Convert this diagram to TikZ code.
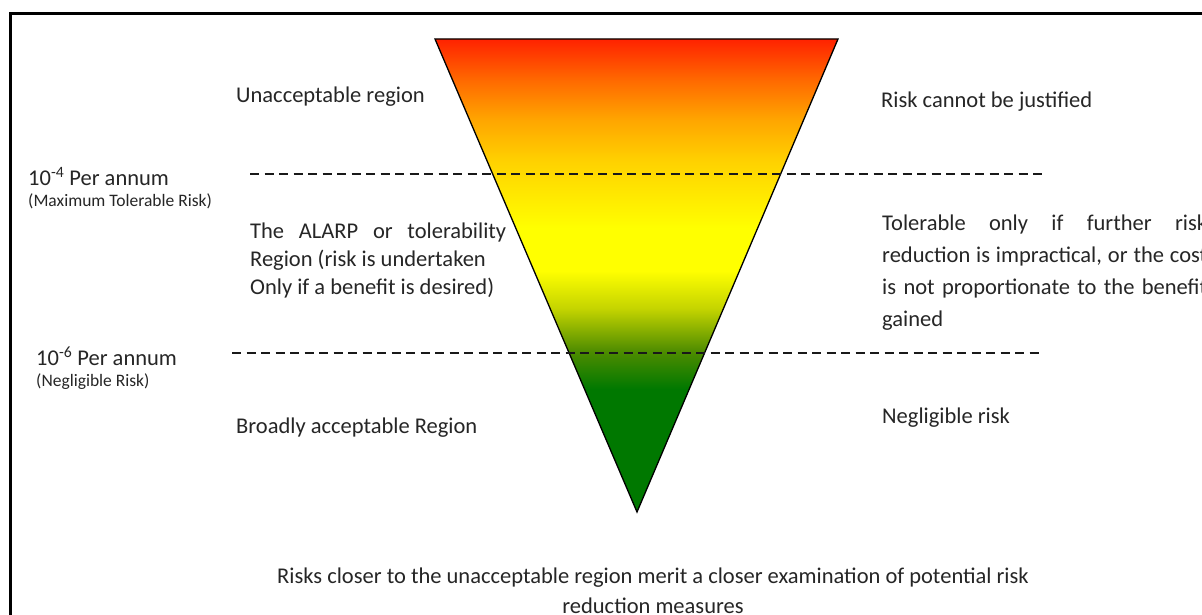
\documentclass[tikz,border=0pt]{standalone}
\usepackage{fontspec}
\setmainfont{Carlito}
\definecolor{rred}{HTML}{FF2200}
\definecolor{rorangeA}{HTML}{FF6A00}
\definecolor{rorange}{HTML}{FFA500}
\definecolor{rgold}{HTML}{FFD200}
\definecolor{ryellow}{HTML}{FFFF00}
\definecolor{ryg}{HTML}{C4D400}
\definecolor{rolive}{HTML}{4E8C00}
\definecolor{rgreen}{HTML}{007800}
\definecolor{txt}{HTML}{262626}
\pgfdeclareverticalshading{risk}{100bp}{color(0bp)=(rgreen); color(25bp)=(rgreen); color(38bp)=(rgreen); color(42bp)=(rolive); color(46.5bp)=(ryg); color(50.5bp)=(ryellow); color(55bp)=(ryellow); color(62bp)=(rgold); color(66.5bp)=(rorange); color(70.6bp)=(rorangeA); color(75bp)=(rred); color(100bp)=(rred)}
\begin{document}
\begin{tikzpicture}[x=1pt,y=-1pt,
  lbl/.style={inner sep=0pt, anchor=west, text=txt, font=\fontsize{22.5}{26}\selectfont, text height=18pt, text depth=2pt},
  small/.style={inner sep=0pt, anchor=west, text=txt, font=\fontsize{17.5}{20}\selectfont, text height=13pt, text depth=0pt},
  level/.style={dashed, dash pattern=on 9pt off 5.5pt, line width=1.8pt, black!90},
  frame/.style={line width=3pt, black}]
\useasboundingbox (0,0) rectangle (1202,615);
\clip (0,0) rectangle (1202,615);
\fill[white] (0,0) rectangle (1202,615);
% frame
\draw[frame] (10.5,13.5) rectangle (1230,640);
% triangle
\coordinate (tl) at (435,39);
\coordinate (tr) at (838,39);
\coordinate (ap) at (637,512);
\shadedraw[shading=risk, draw=black, line width=1.3pt, line join=miter] (tl) -- (tr) -- (ap) -- cycle;
% level lines
\coordinate (l1a) at (250,174);
\coordinate (l1b) at (1043,174);
\coordinate (l2a) at (232,353);
\coordinate (l2b) at (1043,353);
\draw[level] (l1a) -- (l1b);
\draw[level] (l2a) -- (l2b);
% left texts
\node[lbl] (unacc) at (236,95) {Unacceptable region};
\node[lbl] (p4) at (28,177) {10\textsuperscript{-4} Per annum};
\node[small] (mtr) at (28,200) {(Maximum Tolerable Risk)};
\node[lbl] (al1) at (250,230) {\makebox[256pt][s]{The ALARP or tolerability}};
\node[lbl] (al2) at (250,258) {Region (risk is undertaken};
\node[lbl] (al3) at (250,286) {Only if a benefit is desired)};
\node[lbl] (p6) at (36,357) {10\textsuperscript{-6} Per annum};
\node[small] (nr) at (36,380) {(Negligible Risk)};
\node[lbl] (broad) at (236,425) {Broadly acceptable Region};
% right texts
\node[lbl] (rcj) at (881,100) {Risk cannot be justified};
\node[lbl] (t1) at (882,222) {\makebox[325pt][s]{Tolerable only if further risk}};
\node[lbl] (t2) at (882,254) {\makebox[325pt][s]{reduction is impractical, or the cost}};
\node[lbl] (t3) at (882,286) {\makebox[325pt][s]{is not proportionate to the benefit}};
\node[lbl] (t4) at (882,318) {gained};
\node[lbl] (negl) at (882,415) {Negligible risk};
% bottom
\node[lbl, anchor=center] (b1) at (653,575) {Risks closer to the unacceptable region merit a closer examination of potential risk};
\node[lbl, anchor=center] (b2) at (653,605) {reduction measures};
\end{tikzpicture}
\end{document}
